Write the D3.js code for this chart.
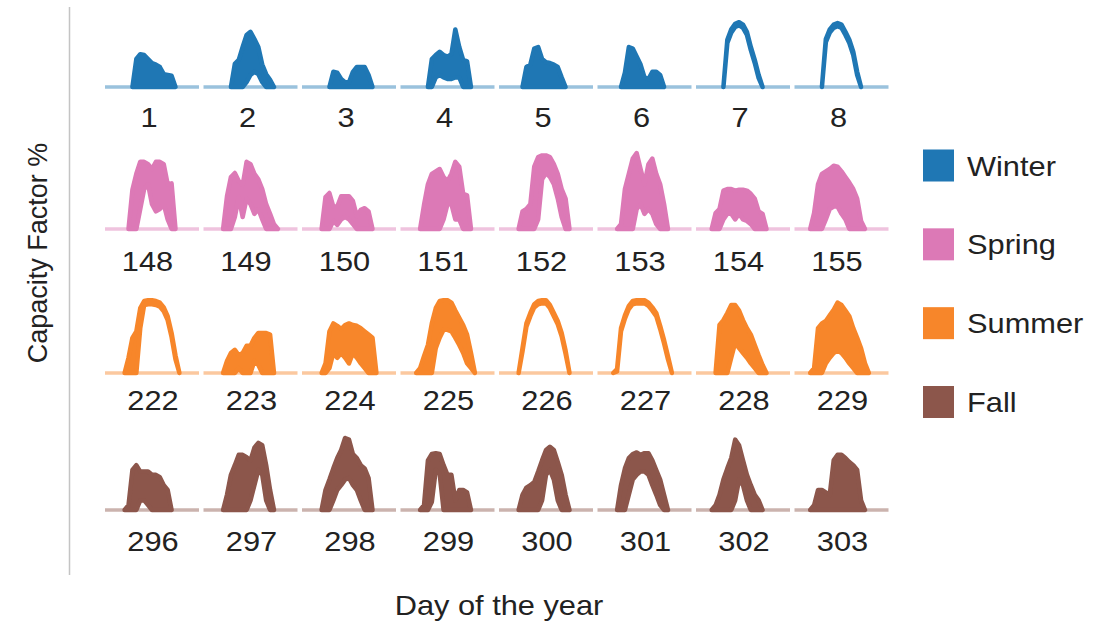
<!DOCTYPE html>
<html>
<head>
<meta charset="utf-8">
<script src="https://cdn.jsdelivr.net/npm/d3@7"></script>
<style>
  body { margin: 0; background: #fff; }
  svg { display: block; font-family: 'Liberation Sans', Arial, sans-serif; }
</style>
</head>
<body>
<div id="chart"></div>
<script>
// hour of day for every value in the day arrays (night is 0)
const hours = [4, 5, 6, 7, 8, 9, 10, 11, 12, 13, 14, 15, 16, 17, 18, 19, 20]

const seasons = ['Winter', 'Spring', 'Summer', 'Fall']
const seasonColors = ['#1f77b4', '#dc79b6', '#f7862a', '#8c564b']

// capacity factor %, upper and lower envelope of each day
const winterDays = [1, 2, 3, 4, 5, 6, 7, 8]
const winterHigh = [
  [0, 0, 0, 0, 35, 41, 40, 35, 30, 28, 25, 16, 15, 14, 0, 0, 0],
  [0, 0, 0, 0, 29, 34, 50, 65, 69, 60, 50, 28, 16, 9, 0, 0, 0],
  [0, 0, 0, 0, 19, 18, 10, 6, 6, 19, 25, 25, 25, 15, 0, 0, 0],
  [0, 0, 0, 0, 35, 40, 44, 40, 38, 41, 72, 50, 34, 32, 0, 0, 0],
  [0, 0, 0, 25, 28, 48, 50, 35, 31, 30, 28, 25, 12, 0, 0, 0, 0],
  [0, 0, 0, 18, 50, 48, 38, 28, 12, 10, 19, 19, 15, 0, 0, 0, 0],
  [0, 0, 0, 0, 59, 72, 79, 81, 78, 69, 50, 34, 15, 0, 0, 0, 0],
  [0, 0, 0, 0, 60, 72, 78, 80, 78, 69, 59, 44, 19, 0, 0, 0, 0]
]
const winterLow = [
  [0, 0, 0, 0, 0, 0, 0, 0, 0, 0, 0, 0, 0, 0, 0, 0, 0],
  [0, 0, 0, 0, 0, 0, 0, 6, 15, 19, 16, 6, 0, 0, 0, 0, 0],
  [0, 0, 0, 0, 0, 0, 0, 0, 0, 0, 0, 0, 0, 0, 0, 0, 0],
  [0, 0, 0, 0, 0, 12, 15, 12, 10, 10, 12, 12, 0, 0, 0, 0, 0],
  [0, 0, 0, 0, 0, 0, 0, 0, 0, 0, 0, 0, 0, 0, 0, 0, 0],
  [0, 0, 0, 0, 0, 0, 0, 0, 0, 0, 0, 0, 0, 0, 0, 0, 0],
  [0, 0, 0, 0, 55, 68, 75, 77, 74, 65, 46, 30, 11, 0, 0, 0, 0],
  [0, 0, 0, 0, 56, 68, 74, 76, 74, 65, 55, 40, 15, 0, 0, 0, 0]
]

const springDays = [148, 149, 150, 151, 152, 153, 154, 155]
const springHigh = [
  [0, 0, 0, 49, 69, 84, 84, 81, 75, 84, 84, 81, 56, 57, 0, 0, 0],
  [0, 0, 41, 65, 70, 60, 55, 84, 81, 69, 62, 50, 31, 19, 6, 0, 0],
  [0, 0, 40, 45, 28, 28, 41, 41, 41, 35, 16, 24, 26, 22, 0, 0, 0],
  [0, 0, 30, 56, 69, 72, 75, 65, 60, 69, 84, 78, 44, 42, 0, 0, 0],
  [0, 0, 22, 25, 31, 78, 90, 92, 92, 90, 81, 69, 50, 38, 0, 0, 0],
  [0, 0, 6, 50, 69, 88, 95, 75, 56, 81, 88, 69, 56, 31, 0, 0, 0],
  [0, 20, 25, 48, 50, 50, 48, 49, 49, 48, 44, 38, 22, 19, 0, 0, 0],
  [0, 20, 56, 69, 72, 75, 79, 78, 72, 65, 58, 50, 38, 10, 0, 0, 0]
]
const springLow = [
  [0, 0, 0, 0, 0, 25, 50, 56, 31, 22, 25, 31, 12, 0, 0, 0, 0],
  [0, 0, 0, 0, 15, 40, 15, 38, 31, 19, 25, 12, 0, 0, 0, 0, 0],
  [0, 0, 0, 0, 10, 5, 12, 15, 12, 6, 0, 0, 0, 0, 0, 0, 0],
  [0, 0, 0, 0, 0, 0, 0, 12, 31, 31, 12, 12, 0, 0, 0, 0, 0],
  [0, 0, 0, 0, 0, 0, 12, 62, 70, 65, 56, 38, 15, 0, 0, 0, 0],
  [0, 0, 0, 0, 0, 0, 25, 31, 19, 25, 19, 6, 0, 0, 0, 0, 0],
  [0, 0, 0, 12, 19, 19, 12, 19, 12, 10, 6, 0, 0, 0, 0, 0, 0],
  [0, 0, 0, 0, 12, 25, 28, 28, 19, 12, 0, 0, 0, 0, 0, 0, 0]
]

const summerDays = [222, 223, 224, 225, 226, 227, 228, 229]
const summerHigh = [
  [0, 0, 19, 44, 52, 81, 90, 91, 91, 90, 88, 82, 71, 50, 22, 0, 0],
  [0, 0, 15, 25, 29, 22, 25, 34, 34, 44, 50, 50, 50, 48, 0, 0, 0],
  [0, 0, 12, 52, 62, 59, 55, 60, 62, 60, 59, 56, 52, 48, 44, 0, 0],
  [0, 6, 21, 35, 62, 81, 90, 91, 91, 88, 78, 69, 60, 48, 25, 0, 0],
  [0, 0, 31, 62, 75, 86, 90, 91, 91, 85, 75, 65, 50, 28, 0, 0, 0],
  [0, 5, 56, 72, 84, 90, 91, 91, 91, 88, 82, 75, 59, 41, 21, 0, 0],
  [0, 0, 60, 66, 75, 85, 85, 78, 66, 56, 48, 35, 22, 10, 0, 0, 0],
  [0, 6, 56, 62, 65, 72, 79, 88, 85, 78, 71, 56, 44, 31, 12, 0, 0]
]
const summerLow = [
  [0, 0, 0, 0, 0, 56, 85, 86, 86, 85, 83, 77, 66, 45, 17, 0, 0],
  [0, 0, 0, 0, 0, 6, 0, 0, 0, 15, 10, 0, 0, 0, 0, 0, 0],
  [0, 0, 0, 6, 25, 19, 25, 19, 12, 25, 19, 12, 6, 0, 0, 0, 0],
  [0, 0, 0, 0, 0, 31, 44, 54, 54, 52, 44, 35, 25, 12, 6, 0, 0],
  [0, 0, 27, 58, 71, 82, 86, 87, 87, 81, 71, 61, 46, 24, 0, 0, 0],
  [0, 2, 52, 68, 80, 86, 87, 87, 87, 84, 78, 71, 55, 37, 17, 0, 0],
  [0, 0, 0, 0, 0, 19, 38, 31, 25, 19, 12, 6, 0, 0, 0, 0, 0],
  [0, 0, 0, 0, 12, 19, 25, 28, 25, 19, 12, 6, 0, 0, 0, 0, 0]
]

const fallDays = [296, 297, 298, 299, 300, 301, 302, 303]
const fallHigh = [
  [0, 0, 6, 50, 56, 48, 48, 48, 44, 44, 41, 31, 25, 0, 0, 0, 0],
  [0, 0, 19, 44, 56, 69, 69, 66, 62, 78, 84, 81, 56, 25, 0, 0, 0],
  [0, 0, 25, 38, 52, 65, 75, 90, 88, 70, 65, 56, 52, 40, 0, 0, 0],
  [0, 0, 6, 62, 70, 71, 70, 56, 44, 44, 12, 25, 25, 22, 0, 0, 0],
  [0, 0, 19, 28, 31, 35, 48, 62, 75, 79, 75, 60, 44, 19, 0, 0, 0],
  [0, 0, 31, 52, 65, 70, 72, 69, 71, 71, 62, 50, 38, 19, 0, 0, 0],
  [0, 6, 19, 38, 52, 65, 88, 81, 62, 44, 31, 19, 12, 0, 0, 0, 0],
  [0, 6, 25, 25, 22, 19, 62, 69, 69, 65, 60, 56, 50, 12, 0, 0, 0]
]
const fallLow = [
  [0, 0, 0, 0, 0, 12, 12, 6, 0, 0, 0, 0, 0, 0, 0, 0, 0],
  [0, 0, 0, 0, 0, 0, 0, 0, 12, 31, 50, 44, 12, 0, 0, 0, 0],
  [0, 0, 0, 0, 12, 25, 31, 38, 40, 31, 25, 12, 0, 0, 0, 0, 0],
  [0, 0, 0, 0, 10, 50, 45, 0, 0, 0, 0, 0, 0, 0, 0, 0, 0],
  [0, 0, 0, 0, 0, 0, 0, 12, 44, 50, 38, 12, 0, 0, 0, 0, 0],
  [0, 0, 0, 0, 19, 38, 44, 48, 48, 44, 31, 19, 6, 0, 0, 0, 0],
  [0, 0, 0, 0, 0, 0, 12, 38, 31, 12, 0, 0, 0, 0, 0, 0, 0],
  [0, 0, 0, 0, 0, 0, 0, 0, 0, 0, 0, 0, 0, 0, 0, 0, 0]
]

const rows = [
  { season: 'Winter', days: winterDays, high: winterHigh, low: winterLow },
  { season: 'Spring', days: springDays, high: springHigh, low: springLow },
  { season: 'Summer', days: summerDays, high: summerHigh, low: summerLow },
  { season: 'Fall', days: fallDays, high: fallHigh, low: fallLow }
]

const width = 1112
const height = 624
const textStretch = 1.14 // the horizontal text is drawn a bit wide in the original

const svg = d3.select('#chart')
  .append('svg')
  .attr('width', width)
  .attr('height', height)

const color = d3.scaleOrdinal().domain(seasons).range(seasonColors)

// layout of the small multiples
const col = d3.scaleBand().domain(d3.range(8)).range([105, 888.5]).paddingInner(0.0457)
const rowBase = d3.scaleOrdinal().domain(seasons).range([87, 229, 373, 510])
const rowLabelY = d3.scaleOrdinal().domain(seasons).range([127, 271, 410, 551])
const rowLabelDx = d3.scaleOrdinal().domain(seasons).range([-3, -4.5, 1, 1])
const y = d3.scaleLinear().domain([0, 100]).range([0, -80])

// left axis line
svg.append('line')
  .attr('x1', 69.5).attr('x2', 69.5)
  .attr('y1', 7).attr('y2', 575)
  .attr('stroke', '#c4c4c4')
  .attr('stroke-width', 1.5)

rows.forEach(row => {
  const c = color(row.season)
  const g = svg.append('g')
    .attr('transform', `translate(0,${rowBase(row.season)})`)

  row.days.forEach((day, i) => {
    const x = d3.scaleLinear().domain([0, 24]).range([col(i), col(i) + col.bandwidth()])

    // night baseline
    g.append('line')
      .attr('x1', x(0)).attr('x2', x(24))
      .attr('y1', y(0)).attr('y2', y(0))
      .attr('stroke', c)
      .attr('stroke-opacity', 0.45)
      .attr('stroke-width', 3.5)

    // keep only daylight points plus one zero on each side
    const pts = hours.map((h, k) => ({ h, hi: row.high[i][k], lo: row.low[i][k] }))
    const first = pts.findIndex(d => d.hi > 0)
    let last = pts.length - 1
    while (last > 0 && pts[last].hi === 0) last--
    const dayPts = pts.slice(Math.max(0, first - 1), Math.min(pts.length, last + 2))

    const area = d3.area()
      .x(d => x(d.h))
      .y0(d => y(d.lo))
      .y1(d => y(d.hi))

    g.append('path')
      .datum(dayPts)
      .attr('d', area)
      .attr('fill', c)
      .attr('stroke', c)
      .attr('stroke-width', 4.5)
      .attr('stroke-linejoin', 'round')

    const lx = col(i) + col.bandwidth() / 2 + rowLabelDx(row.season)
    const ly = rowLabelY(row.season) - rowBase(row.season)
    g.append('text')
      .attr('transform', `translate(${lx},${ly}) scale(${textStretch},1)`)
      .attr('text-anchor', 'middle')
      .attr('font-size', 27)
      .attr('fill', '#222')
      .text(day)
  })
})

// axis titles
svg.append('text')
  .attr('transform', 'translate(47,253) rotate(-90)')
  .attr('text-anchor', 'middle')
  .attr('font-size', 27)
  .attr('fill', '#222')
  .text('Capacity Factor %')

svg.append('text')
  .attr('transform', `translate(499,615) scale(${textStretch},1)`)
  .attr('text-anchor', 'middle')
  .attr('font-size', 27)
  .attr('fill', '#222')
  .text('Day of the year')

// legend
const legendY = d3.scalePoint().domain(seasons).range([165.5, 402])
const legend = svg.append('g')
  .selectAll('g')
  .data(seasons)
  .join('g')
  .attr('transform', d => `translate(923,${legendY(d)})`)

legend.append('rect')
  .attr('x', 0).attr('y', -16)
  .attr('width', 31).attr('height', 32)
  .attr('fill', d => color(d))

legend.append('text')
  .attr('transform', `translate(44,10) scale(${textStretch},1)`)
  .attr('font-size', 27)
  .attr('fill', '#222')
  .text(d => d)
</script>
</body>
</html>
